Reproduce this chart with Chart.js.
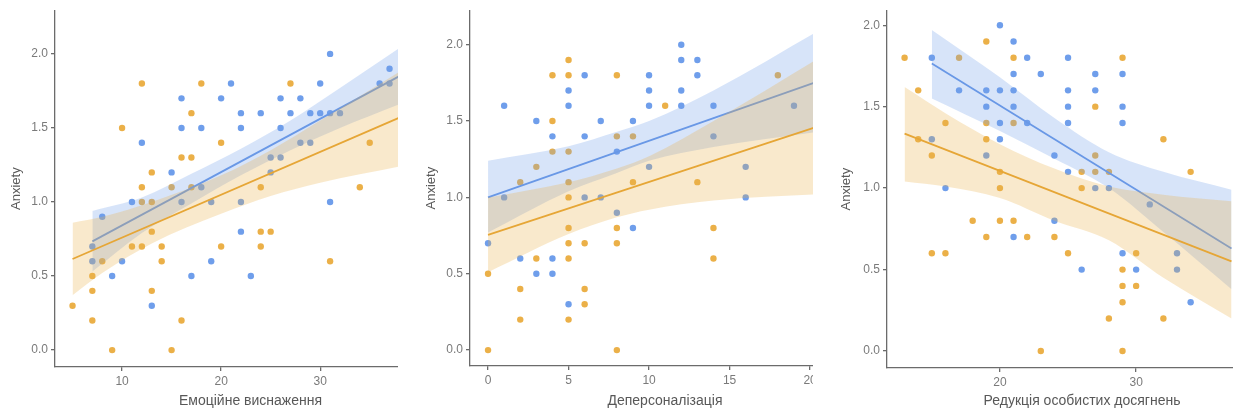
<!DOCTYPE html>
<html>
<head>
<meta charset="utf-8">
<script src="https://cdn.jsdelivr.net/npm/chart.js@4.4.1/dist/chart.umd.min.js"></script>
<style>
  html, body { margin: 0; padding: 0; background: #fff; width: 1233px; height: 414px; overflow: hidden; }
  .panel { position: absolute; top: 0; height: 414px; overflow: hidden; }
</style>
</head>
<body>
<div class="panel" style="left:0;width:398px"><canvas id="c1" width="460" height="414"></canvas></div>
<div class="panel" style="left:410px;width:403px"><canvas id="c2" width="470" height="414"></canvas></div>
<div class="panel" style="left:820px;width:413px"><canvas id="c3" width="480" height="414"></canvas></div>
<script>
// --- panel 1: Емоційне виснаження ---
const exBlue = [[7,0.7],[7,0.6],[8,0.9],[9,0.5],[10,0.6],[11,1.0],[12,1.4],[13,0.3],[15,1.2],[16,1.7],[16,1.5],[16,1.0],[17,0.5],[18,1.5],[18,1.1],[19,1.0],[19,0.6],[20,1.7],[21,1.8],[22,1.6],[22,1.5],[22,1.0],[22,0.8],[23,0.5],[24,1.6],[25,1.3],[25,1.2],[26,1.7],[26,1.5],[26,1.3],[27,1.6],[28,1.7],[28,1.4],[29,1.6],[29,1.4],[30,1.8],[30,1.6],[31,2.0],[31,1.6],[31,1.0],[32,1.6],[36,1.8],[37,1.9],[37,1.8]];
const exOrange = [[5,0.3],[7,0.5],[7,0.4],[7,0.2],[8,0.6],[9,0.0],[10,1.5],[11,0.7],[12,1.8],[12,1.1],[12,1.0],[12,0.7],[13,1.2],[13,1.0],[13,0.8],[13,0.4],[14,0.7],[14,0.6],[15,1.1],[15,0.0],[16,1.3],[16,0.2],[17,1.6],[17,1.3],[17,1.1],[18,1.8],[20,1.4],[20,0.7],[24,1.1],[24,0.8],[24,0.7],[25,0.8],[27,1.8],[31,0.6],[34,1.1],[35,1.4]];
const exBlueLine = [[7,0.734],[38,1.85]];
const exOrangeLine = [[5,0.615],[38,1.57]];
const exBlueBandX = [7,12,17,22,27,32,38];
const exBlueUpper = [0.94,1.03,1.19,1.36,1.55,1.77,2.04];
const exBlueLower = [0.53,0.79,0.99,1.18,1.35,1.50,1.66];
const exOrangeBandX = [5,8,13,20,25,30,38];
const exOrangeUpper = [0.86,0.90,1.00,1.18,1.35,1.55,1.88];
const exOrangeLower = [0.37,0.52,0.72,0.92,1.04,1.13,1.24];
const exTicks = [10,20,30,40];

// --- panel 2: Деперсоналізація ---
const dpBlue = [[0,0.7],[1,1.6],[1,1.0],[2,0.6],[3,1.5],[3,0.5],[4,1.4],[4,0.6],[4,0.5],[5,1.7],[5,1.6],[5,0.3],[6,1.8],[6,1.4],[6,1.0],[7,1.5],[7,1.0],[8,1.3],[8,0.9],[9,1.5],[9,0.8],[10,1.8],[10,1.7],[10,1.6],[10,1.2],[12,2.0],[12,1.9],[12,1.7],[12,1.6],[13,1.9],[13,1.8],[14,1.6],[14,1.4],[16,1.2],[16,1.0],[19,1.6]];
const dpOrange = [[0,0.5],[0,0.0],[2,1.1],[2,0.4],[2,0.2],[3,1.2],[3,0.6],[4,1.8],[4,1.5],[4,1.3],[5,1.9],[5,1.8],[5,1.3],[5,1.1],[5,1.0],[5,0.8],[5,0.7],[5,0.6],[5,0.2],[6,0.7],[6,0.4],[6,0.3],[8,1.8],[8,1.4],[8,0.8],[8,0.7],[8,0.0],[9,1.4],[9,1.1],[11,1.6],[13,1.1],[14,0.8],[14,0.6],[18,1.8]];
const dpBlueLine = [[0,1.0],[20.5,1.76]];
const dpOrangeLine = [[0,0.755],[20.5,1.465]];
const dpBlueBandX = [0,5,8,10,14,20.5];
const dpBlueUpper = [1.24,1.335,1.43,1.50,1.70,2.09];
const dpBlueLower = [0.77,1.04,1.16,1.24,1.33,1.43];
const dpOrangeBandX = [0,5,8,10,14,20.5];
const dpOrangeUpper = [1.00,1.10,1.19,1.27,1.50,1.91];
const dpOrangeLower = [0.51,0.76,0.87,0.92,0.98,1.02];
const dpTicks = [0,5,10,15,20];

// --- panel 3: Редукція особистих досягнень ---
const rdBlue = [[15,1.8],[15,1.3],[16,1.0],[17,1.6],[19,1.6],[19,1.5],[19,1.2],[20,2.0],[20,1.6],[20,1.4],[20,1.3],[21,1.9],[21,1.7],[21,1.6],[21,1.5],[21,0.7],[22,1.8],[22,1.4],[23,1.7],[24,1.2],[24,0.8],[25,1.8],[25,1.6],[25,1.5],[25,1.4],[25,1.1],[26,0.5],[27,1.7],[27,1.6],[27,1.0],[28,1.0],[29,1.7],[29,1.5],[29,1.4],[29,0.6],[30,0.5],[31,0.9],[33,0.6],[33,0.5],[34,0.3]];
const rdOrange = [[13,1.8],[14,1.6],[14,1.3],[15,1.2],[15,0.6],[16,1.4],[16,0.6],[17,1.8],[18,0.8],[19,1.9],[19,1.4],[19,1.3],[19,0.7],[20,1.1],[20,1.0],[20,0.8],[21,1.8],[21,1.4],[21,0.8],[22,0.7],[23,0.0],[24,0.7],[25,0.6],[26,1.1],[26,1.0],[27,1.5],[27,1.2],[27,1.1],[28,1.1],[28,0.2],[29,1.8],[29,0.5],[29,0.4],[29,0.3],[29,0.0],[30,0.6],[30,0.4],[32,1.3],[32,0.2],[34,1.1]];
const rdBlueLine = [[15,1.765],[37,0.63]];
const rdOrangeLine = [[13,1.335],[37,0.55]];
const rdBlueBandX = [15,20,24,28,32,37];
const rdBlueUpper = [1.97,1.68,1.43,1.22,1.10,0.99];
const rdBlueLower = [1.55,1.35,1.18,1.00,0.73,0.38];
const rdOrangeBandX = [13,16,20,24,28,32,37];
const rdOrangeUpper = [1.62,1.46,1.27,1.12,1.01,0.96,0.92];
const rdOrangeLower = [1.04,1.01,0.94,0.80,0.68,0.45,0.20];
const rdTicks = [20,30,40];

const yTicks = [0, 0.5, 1.0, 1.5, 2.0];

const BLUE = "rgb(111,158,235)";
const ORANGE = "rgb(235,176,72)";
const BLUE_LINE = "rgb(105,152,230)";
const ORANGE_LINE = "rgb(230,166,54)";
const BLUE_BAND = "rgba(111,158,235,0.28)";
const ORANGE_BAND = "rgba(235,176,72,0.28)";
const FONT = "'Liberation Sans', Arial, sans-serif";

const pts = (arr) => arr.map(([x, y]) => ({ x, y }));
const band = (xs, ys) => xs.map((x, i) => ({ x, y: ys[i] }));

function makePanel(id, cfg) {
  const lineDs = (data, color) => ({
    type: "line", data: pts(data), borderColor: color, borderWidth: 1.8,
    pointRadius: 0, fill: false,
  });
  const edgeDs = (data, color, fill) => ({
    type: "line", data, borderColor: "rgba(0,0,0,0)", borderWidth: 0,
    backgroundColor: color, pointRadius: 0, fill: fill,
    cubicInterpolationMode: "monotone",
  });
  const pointDs = (data, color) => ({
    type: "scatter", data: pts(data), backgroundColor: color,
    pointRadius: 3.2, pointBorderWidth: 0, borderWidth: 0,
  });

  // first dataset is drawn on top
  const datasets = [
    lineDs(cfg.orangeLine, ORANGE_LINE),
    edgeDs(band(cfg.orangeBandX, cfg.orangeUpper), ORANGE_BAND, "+1"),
    edgeDs(band(cfg.orangeBandX, cfg.orangeLower), ORANGE_BAND, false),
    lineDs(cfg.blueLine, BLUE_LINE),
    edgeDs(band(cfg.blueBandX, cfg.blueUpper), BLUE_BAND, "+1"),
    edgeDs(band(cfg.blueBandX, cfg.blueLower), BLUE_BAND, false),
    pointDs(cfg.orange, ORANGE),
    pointDs(cfg.blue, BLUE),
  ];

  const axisColor = "#6b6b6b";
  new Chart(document.getElementById(id), {
    type: "scatter",
    data: { datasets },
    options: {
      responsive: false,
      animation: false,
      events: [],
      layout: { padding: { left: 0, top: cfg.top, right: cfg.right, bottom: 0 } },
      plugins: { legend: { display: false }, tooltip: { enabled: false } },
      scales: {
        x: {
          type: "linear", min: cfg.xMin, max: cfg.xMax,
          afterBuildTicks: (s) => { s.ticks = cfg.xTicks.map((v) => ({ value: v })); },
          afterFit: (s) => { s.height = cfg.xHeight; },
          grid: { display: true, drawOnChartArea: false, drawTicks: true, tickLength: 4, color: axisColor, lineWidth: 1.3 },
          border: { display: true, color: axisColor, width: 1.3 },
          ticks: { color: "#7a7a7a", padding: 3, font: { size: 12, family: FONT }, callback: (v) => String(v) },
          title: { display: true, text: cfg.xTitle, color: "#585858", font: { size: 14, family: FONT }, padding: { top: 4, bottom: 4 } },
        },
        y: {
          type: "linear", min: cfg.yMin, max: cfg.yMax,
          afterBuildTicks: (s) => { s.ticks = yTicks.map((v) => ({ value: v })); },
          afterFit: (s) => { s.width = cfg.yWidth; },
          grid: { display: true, drawOnChartArea: false, drawTicks: true, tickLength: 4, color: axisColor, lineWidth: 1.3 },
          border: { display: true, color: axisColor, width: 1.3 },
          ticks: { color: "#7a7a7a", padding: 3, font: { size: 12, family: FONT }, callback: (v) => v.toFixed(1) },
          title: { display: true, text: "Anxiety", color: "#585858", font: { size: 13, family: FONT }, padding: { top: cfg.yTitlePad, bottom: 0 } },
        },
      },
    },
  });
}

makePanel("c1", {
  blue: exBlue, orange: exOrange, blueLine: exBlueLine, orangeLine: exOrangeLine,
  blueBandX: exBlueBandX, blueUpper: exBlueUpper, blueLower: exBlueLower,
  orangeBandX: exOrangeBandX, orangeUpper: exOrangeUpper, orangeLower: exOrangeLower,
  xTicks: exTicks, xMin: 3.23, xMax: 42.7, yMin: -0.114, yMax: 2.295,
  xTitle: "Емоційне виснаження", top: 8, right: 14, xHeight: 47, yWidth: 55, yTitlePad: 9,
});

makePanel("c2", {
  blue: dpBlue, orange: dpOrange, blueLine: dpBlueLine, orangeLine: dpOrangeLine,
  blueBandX: dpBlueBandX, blueUpper: dpBlueUpper, blueLower: dpBlueLower,
  orangeBandX: dpOrangeBandX, orangeUpper: dpOrangeUpper, orangeLower: dpOrangeLower,
  xTicks: dpTicks, xMin: -1.12, xMax: 23.1, yMin: -0.104, yMax: 2.226,
  xTitle: "Деперсоналізація", top: 8, right: 20, xHeight: 48, yWidth: 60, yTitlePad: 14,
});

makePanel("c3", {
  blue: rdBlue, orange: rdOrange, blueLine: rdBlueLine, orangeLine: rdOrangeLine,
  blueBandX: rdBlueBandX, blueUpper: rdBlueUpper, blueLower: rdBlueLower,
  orangeBandX: rdOrangeBandX, orangeUpper: rdOrangeUpper, orangeLower: rdOrangeLower,
  xTicks: rdTicks, xMin: 11.71, xMax: 40.34, yMin: -0.104, yMax: 2.092,
  xTitle: "Редукція особистих досягнень", top: 10, right: 23, xHeight: 46, yWidth: 67, yTitlePad: 19,
});
</script>
</body>
</html>
